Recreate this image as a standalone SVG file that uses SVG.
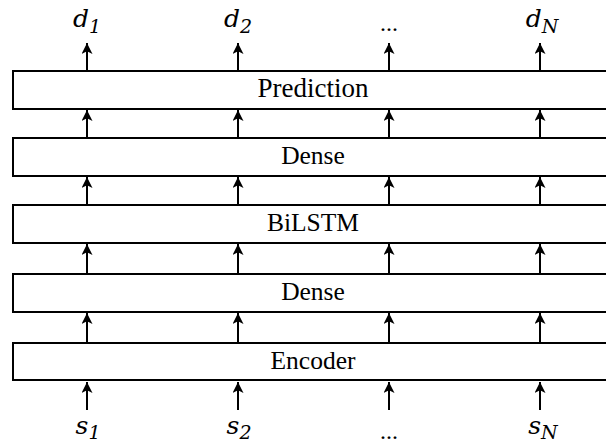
<svg xmlns="http://www.w3.org/2000/svg" width="606" height="445" viewBox="0 0 606 445">
<style>
.box{fill:#fff;stroke:#000;stroke-width:2}
.lbl{font-family:"Liberation Serif","Times New Roman",serif;font-size:25.5px;text-anchor:middle;fill:#000}
.math{font-family:"DejaVu Serif","Liberation Serif",serif;font-style:italic;font-size:25px;fill:#000;text-anchor:middle}
.sub{font-size:19px}
.dots{font-family:"Liberation Serif",serif;font-size:24px;text-anchor:middle;fill:#000}
.arr{stroke:#000;stroke-width:2;fill:none;marker-end:url(#ah)}
</style>
<defs>
<marker id="ah" viewBox="0 0 12 12" markerWidth="12" markerHeight="11" refX="12" refY="6" orient="auto" markerUnits="userSpaceOnUse">
<path d="M0,0 L12,6 L0,12 L3,6 Z" fill="#000"/>
</marker>
</defs>
<rect width="606" height="445" fill="#fff"/>
<g id="prediction"><rect class="box" x="13" y="71" width="600" height="38"/><text class="lbl" x="313" y="97" style="font-size:27px">Prediction</text></g>
<g id="dense2"><rect class="box" x="13" y="138" width="600" height="38"/><text class="lbl" x="313" y="164">Dense</text></g>
<g id="bilstm"><rect class="box" x="13" y="205" width="600" height="38"/><text class="lbl" x="313" y="231">BiLSTM</text></g>
<g id="dense1"><rect class="box" x="13" y="274" width="600" height="38"/><text class="lbl" x="313" y="300">Dense</text></g>
<g id="encoder"><rect class="box" x="13" y="343" width="600" height="37"/><text class="lbl" x="313" y="369">Encoder</text></g>
<g id="connectors">
<path class="arr" d="M87,70 V43"/><path class="arr" d="M238,70 V43"/><path class="arr" d="M389,70 V43"/><path class="arr" d="M540,70 V43"/>
<path class="arr" d="M87,137 V110"/><path class="arr" d="M238,137 V110"/><path class="arr" d="M389,137 V110"/><path class="arr" d="M540,137 V110"/>
<path class="arr" d="M87,204 V177"/><path class="arr" d="M238,204 V177"/><path class="arr" d="M389,204 V177"/><path class="arr" d="M540,204 V177"/>
<path class="arr" d="M87,273 V244"/><path class="arr" d="M238,273 V244"/><path class="arr" d="M389,273 V244"/><path class="arr" d="M540,273 V244"/>
<path class="arr" d="M87,342 V313"/><path class="arr" d="M238,342 V313"/><path class="arr" d="M389,342 V313"/><path class="arr" d="M540,342 V313"/>
<path class="arr" d="M87,410 V382"/><path class="arr" d="M238,410 V382"/><path class="arr" d="M389,410 V382"/><path class="arr" d="M540,410 V382"/>
</g>
<g id="outputs">
<text class="math" x="87" y="27">d<tspan class="sub" dy="6">1</tspan></text>
<text class="math" x="238" y="27">d<tspan class="sub" dy="6">2</tspan></text>
<text class="dots" x="389" y="31">...</text>
<text class="math" x="542" y="27">d<tspan class="sub" dy="6">N</tspan></text>
</g>
<g id="inputs">
<text class="math" x="88" y="434">s<tspan class="sub" dy="5">1</tspan></text>
<text class="math" x="239" y="434">s<tspan class="sub" dy="5">2</tspan></text>
<text class="dots" x="389" y="439">...</text>
<text class="math" x="543" y="434">s<tspan class="sub" dy="5">N</tspan></text>
</g>
</svg>
